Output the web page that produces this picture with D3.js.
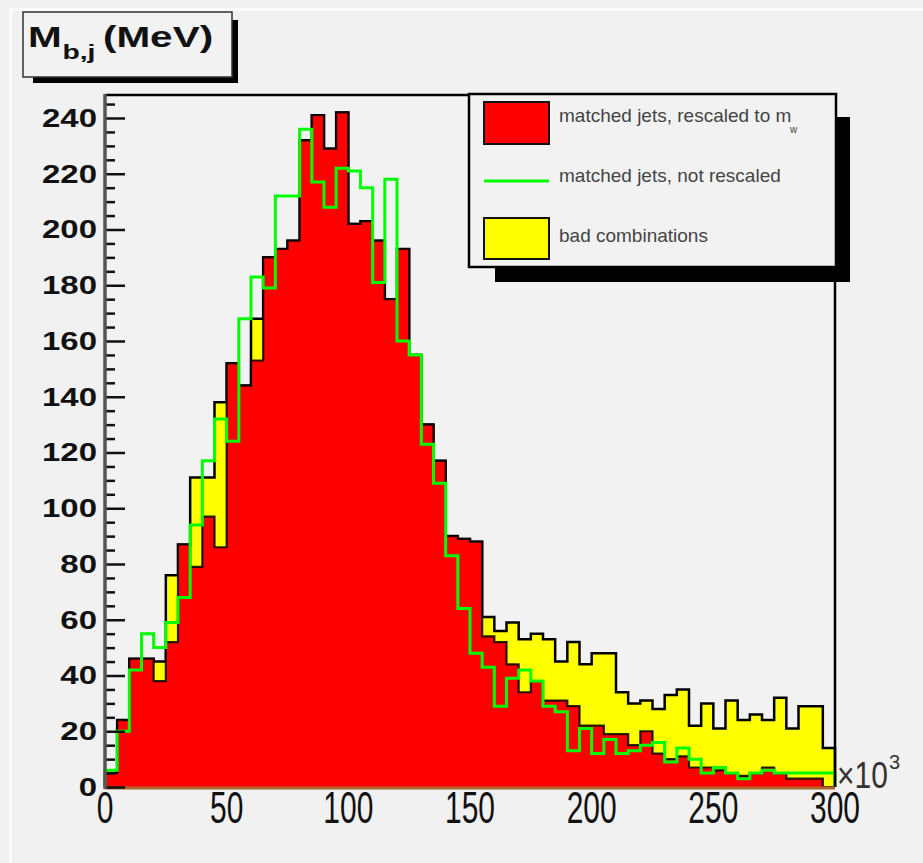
<!DOCTYPE html>
<html><head><meta charset="utf-8">
<script src="https://cdn.jsdelivr.net/npm/d3@7"></script>
<style>
html,body{margin:0;padding:0;background:#f1f1f1;}
svg{display:block;}
text{font-family:"Liberation Sans",Arial,Helvetica,sans-serif;}
</style></head><body>
<svg id="c" width="923" height="863"></svg>
<script>
// ---- data (bin low edges in units of 10^3 MeV, bin width 5) ----
const binLow = [0,5,10,15,20,25,30,35,40,45,50,55,60,65,70,75,80,85,90,95,
  100,105,110,115,120,125,130,135,140,145,150,155,160,165,170,175,180,185,190,195,
  200,205,210,215,220,225,230,235,240,245,250,255,260,265,270,275,280,285,290,295];
const binWidth = 5;
const matchedRescaled = [5,24,46,46,38,52,87,79,97,86,152,144,153,190,193,196,232,241,229,242,
  202,203,196,175,193,155,130,117,90,89,88,54,52,44,34,38,31,31,29,22,
  22,19,19,15,20,12,10,11,7,7,6,5,4,5,7,5,3,3,3,0];
const badCombinations = [0,0,0,0,7,24,0,32,14,52,0,0,15,0,0,0,0,0,0,0,
  0,0,0,0,0,0,0,0,0,0,0,7,4,15,19,17,22,14,23,22,
  26,29,15,15,11,16,23,24,15,23,15,26,20,21,17,27,18,26,26,14];
const matchedNotRescaled = [6,20,42,55,50,59,68,94,117,132,124,168,183,179,212,212,236,217,208,222,
  221,215,181,218,160,155,123,109,83,64,48,43,29,39,42,38,29,27,13,21,
  12,17,12,13,15,16,9,14,10,5,7,5,3,5,6,5,5,5,5,5];
const yTicks = [0,20,40,60,80,100,120,140,160,180,200,220,240];
const xTicks = [0,50,100,150,200,250,300];
const legendLabels = ["matched jets, rescaled to m", "matched jets, not rescaled", "bad combinations"];

const svg = d3.select("#c");
const W = 923, H = 863;
svg.append("rect").attr("x",0).attr("y",0).attr("width",W).attr("height",H).attr("fill","#f1f1f1");
svg.append("path").attr("d","M10.5,863 V9.5 H923").attr("fill","none").attr("stroke","#ffffff").attr("stroke-width",2);

const x = d3.scaleLinear().domain([0,300]).range([105,835]);
const y = d3.scaleLinear().domain([0,248.25]).range([787,95]);

// frame
svg.append("rect").attr("x",x(0)).attr("y",y(248.25)).attr("width",x(300)-x(0)).attr("height",y(0)-y(248.25)).attr("fill","#f2f2f2");

function stepPts(vals){
  const pts=[[binLow[0],0]];
  vals.forEach((v,i)=>{pts.push([binLow[i],v]);pts.push([binLow[i]+binWidth,v]);});
  pts.push([binLow[binLow.length-1]+binWidth,0]);
  return pts;
}
const total = matchedRescaled.map((v,i)=>v+badCombinations[i]);
const area = d3.area().x(d=>x(d[0])).y0(y(0)).y1(d=>y(d[1]));
const line = d3.line().x(d=>x(d[0])).y(d=>y(d[1]));

const g = svg.append("g");
g.append("path").attr("d",area(stepPts(total))).attr("fill","#ffff00");
g.append("path").attr("d",line(stepPts(total))).attr("fill","none").attr("stroke","#000").attr("stroke-width",2.5);
g.append("path").attr("d",area(stepPts(matchedRescaled))).attr("fill","#ff0000");
g.append("path").attr("d",line(stepPts(matchedRescaled))).attr("fill","none").attr("stroke","#000").attr("stroke-width",2.2).attr("stroke-opacity",0.85);
g.append("path").attr("d",line(stepPts(matchedNotRescaled))).attr("fill","none").attr("stroke","#00ff00").attr("stroke-width",3);

// frame top/right border
svg.append("path").attr("d",`M${x(0)},${y(248.25)} H${x(300)} V${y(0)}`).attr("fill","none").attr("stroke","#000").attr("stroke-width",2.5);
// bottom axis line
svg.append("line").attr("x1",x(0)).attr("x2",x(300)).attr("y1",y(0)+1).attr("y2",y(0)+1).attr("stroke","#b0662a").attr("stroke-width",3);

// y axis ticks
const minor = d3.range(0,249,5).filter(v=>v%20!==0);
const yMajor = d3.axisRight(y).tickValues(yTicks).tickSize(20).tickFormat("");
const yMinor = d3.axisRight(y).tickValues(minor).tickSize(10).tickFormat("");
const ga = svg.append("g").attr("transform",`translate(${x(0)},0)`).call(yMajor);
ga.select(".domain").remove();
ga.selectAll("line").attr("stroke","#111").attr("stroke-width",2.5);
const gm = svg.append("g").attr("transform",`translate(${x(0)},0)`).call(yMinor);
gm.select(".domain").remove();
gm.selectAll("line").attr("stroke","#111").attr("stroke-width",2.5);
svg.append("line").attr("x1",x(0)).attr("x2",x(0)).attr("y1",y(248.25)-1).attr("y2",y(0)+2).attr("stroke","#555").attr("stroke-width",3.5);

// y labels
yTicks.forEach(v=>{
  svg.append("text").attr("transform",`translate(97,${y(v)+9}) scale(1.32,1)`)
    .attr("text-anchor","end").attr("font-weight","bold").attr("font-size",25).attr("fill","#111").text(v);
});
// x labels
xTicks.forEach(v=>{
  svg.append("text").attr("transform",`translate(${x(v)},823) scale(1,1.5)`)
    .attr("text-anchor","middle").attr("font-size",30).attr("fill","#111").text(v);
});
// x10^3
const ex = svg.append("text").attr("transform","translate(837,788) scale(1,1.2)").attr("font-size",30).attr("fill","#333");
ex.append("tspan").text("\u00d710");
svg.append("text").attr("x",889).attr("y",769).attr("font-size",20).attr("fill","#333").text("3");

// title box
svg.append("rect").attr("x",33).attr("y",20).attr("width",205).attr("height",63).attr("fill","#000");
svg.append("rect").attr("x",23).attr("y",12).attr("width",209).attr("height",65).attr("fill","#f2f2f2").attr("stroke","#333").attr("stroke-width",1.5);
const tg = svg.append("g").attr("transform","translate(28,47) scale(1.35,1)");
tg.append("text").attr("x",0).attr("y",0).attr("font-weight","bold").attr("font-size",30).attr("fill","#111").text("M");
tg.append("text").attr("x",25.5).attr("y",12).attr("font-weight","bold").attr("font-size",21).attr("fill","#111").text("b,j");
tg.append("text").attr("x",55.5).attr("y",0).attr("font-weight","bold").attr("font-size",30).attr("fill","#111").text("(MeV)");

// legend
svg.append("rect").attr("x",495).attr("y",117).attr("width",355).attr("height",165).attr("fill","#000");
svg.append("rect").attr("x",469).attr("y",94).attr("width",367).attr("height",173).attr("fill","#f2f2f2").attr("stroke","#000").attr("stroke-width",2.5);
svg.append("rect").attr("x",484).attr("y",102).attr("width",65).attr("height",42).attr("fill","#ff0000").attr("stroke","#111").attr("stroke-width",2);
svg.append("line").attr("x1",484).attr("x2",549).attr("y1",181).attr("y2",181).attr("stroke","#00ff00").attr("stroke-width",3);
svg.append("rect").attr("x",484).attr("y",218).attr("width",65).attr("height",41).attr("fill","#ffff00").attr("stroke","#111").attr("stroke-width",2);
const ly = [121.5,181.5,241.5];
legendLabels.forEach((t,i)=>{
  svg.append("text").attr("x",559).attr("y",ly[i]).attr("font-size",19).attr("fill","#444").text(t);
});
svg.append("text").attr("x",790).attr("y",133).attr("font-size",10).attr("fill","#444").text("w");
</script>
</body></html>
